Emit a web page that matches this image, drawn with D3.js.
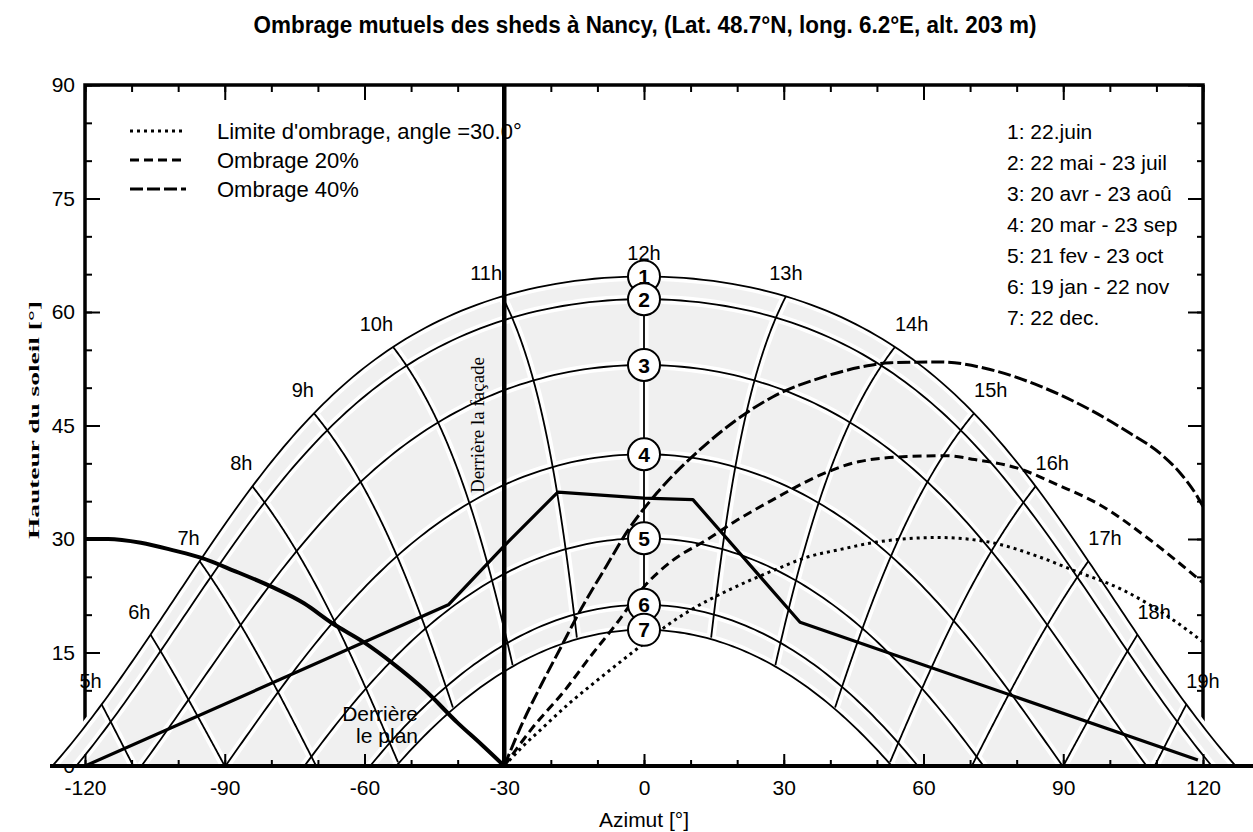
<!DOCTYPE html>
<html>
<head>
<meta charset="utf-8">
<script src="https://cdn.jsdelivr.net/npm/d3@7"></script>
<style>
  body { margin: 0; background: #fff; }
  text { font-family: "Liberation Sans", Arial, sans-serif; fill: #000; }
  .serif { font-family: "Liberation Serif", "Times New Roman", serif; }
</style>
</head>
<body>
<div id="chart"></div>
<script>
// site and sun path dates (noon altitude read at azimuth 0 for each curve)
var latitude = 48.7;
var noonAltitude = [64.7, 61.7, 53.0, 41.2, 30.1, 21.3, 18.0];
var dateNames = ["1: 22.juin", "2: 22 mai - 23 juil", "3: 20 avr - 23 aoû", "4: 20 mar - 23 sep",
                 "5: 21 fev - 23 oct", "6: 19 jan - 22 nov", "7: 22 dec."];
var hours = [5, 6, 7, 8, 9, 10, 11, 12, 13, 14, 15, 16, 17, 18, 19];

var xTicks = [-120, -90, -60, -30, 0, 30, 60, 90, 120];
var yTicks = [0, 15, 30, 45, 60, 75, 90];

// shading lines [azimut, hauteur]
var facadeAzimut = -30;
var planLimit = [[-120, 30], [-115, 30], [-108, 29.5], [-101, 28.5], [-95, 27.5], [-88, 25.8], [-80, 23.7],
                 [-73, 21.5], [-67, 18.9], [-60, 16.3], [-54, 13.6], [-47, 10], [-40, 5.7], [-35, 2.9], [-30, 0]];
var shedProfile = [[-120, 0], [-42, 21.3], [-30, 29.1], [-18.5, 36.2], [0, 35.4], [10.5, 35.2], [33.5, 19], [118.9, 0.8]];
var limitLine = [[-30, 0], [-26, 2.6], [-22, 4.9], [-16, 8.3], [-11.5, 10.6], [-5, 13.8], [0, 16.2], [5, 18.6],
                 [10, 20.6], [17, 22.9], [23, 24.6], [28, 25.9], [35, 27.6], [42, 28.6], [50, 29.6], [63, 30.2],
                 [74, 29.6], [85, 27.6], [92, 25.9], [103, 23.2], [113.6, 19.3], [120, 16.4]];
var shade20 = [[-30, 0], [-24, 5], [-17, 10], [-11.6, 14.4], [-5.8, 18.9], [0, 23.7], [6, 27.1], [13.5, 29.9],
               [20, 32.5], [27.7, 35.2], [38, 38.5], [46, 40.2], [56.5, 40.9], [65, 41], [71, 40.5], [80, 39.4],
               [89, 37.1], [97.9, 34.5], [108.6, 29.9], [120, 24.2]];
var shade40 = [[-30, 0], [-26, 5.8], [-22, 10.8], [-18, 15.5], [-14, 20.2], [-8, 26.5], [-3.6, 31], [2.8, 36.1],
               [12, 41.8], [19.1, 45.4], [27.7, 48.8], [38.4, 51.4], [46.4, 52.7], [53, 53.3], [63.5, 53.4],
               [74.3, 52.4], [85, 50.2], [95.7, 47.1], [104, 44.1], [111, 41.2], [115, 38.8], [118.7, 35.7], [120, 34.3]];

var svg = d3.select("#chart").append("svg")
  .attr("width", 1253)
  .attr("height", 832);

var x = d3.scaleLinear().domain([-120, 120]).range([85, 1203]);
var y = d3.scaleLinear().domain([0, 90]).range([766, 85]);
var plain = function(d) { return String(d); };

// title
svg.append("text")
  .attr("x", 645).attr("y", 33)
  .attr("text-anchor", "middle")
  .style("font-size", "23px").style("font-weight", "bold")
  .attr("textLength", 783).attr("lengthAdjust", "spacingAndGlyphs")
  .text("Ombrage mutuels des sheds  à  Nancy, (Lat. 48.7°N, long. 6.2°E, alt. 203 m)");

// frame: top, left, right
svg.append("path")
  .attr("d", "M" + x(-120) + "," + y(0) + "V" + y(90) + "H" + x(120) + "V" + y(0))
  .attr("fill", "none").attr("stroke", "#000").attr("stroke-width", 3.5);

var minorX = d3.range(-120, 121, 10), minorY = d3.range(0, 91, 5);
svg.append("g").attr("transform", "translate(0," + y(90) + ")")
  .call(d3.axisTop(x).tickValues(minorX).tickSize(-7).tickFormat(""));
svg.append("g").attr("transform", "translate(0," + y(90) + ")")
  .call(d3.axisTop(x).tickValues(xTicks).tickSize(-15).tickFormat(""));
svg.append("g").attr("transform", "translate(" + x(-120) + ",0)")
  .call(d3.axisLeft(y).tickValues(minorY).tickSize(-7).tickFormat(""));
svg.append("g").attr("transform", "translate(" + x(-120) + ",0)")
  .call(d3.axisLeft(y).tickValues(yTicks).tickSize(-15).tickPadding(10).tickFormat(plain))
  .selectAll("text").style("font-size", "21px").attr("font-family", null);
svg.append("g").attr("transform", "translate(" + x(120) + ",0)")
  .call(d3.axisRight(y).tickValues(minorY).tickSize(-6).tickFormat(""));
svg.append("g").attr("transform", "translate(" + x(120) + ",0)")
  .call(d3.axisRight(y).tickValues(yTicks).tickSize(-15).tickFormat(""));
svg.selectAll(".domain").remove();
svg.selectAll(".tick line").attr("stroke-width", 2);

// y axis title
svg.append("text").attr("class", "serif")
  .attr("transform", "translate(39,420) rotate(-90)")
  .attr("text-anchor", "middle")
  .style("font-size", "15px").style("font-weight", "bold")
  .attr("textLength", 238).attr("lengthAdjust", "spacingAndGlyphs")
  .text("Hauteur du soleil [°]");

// legends
var legendStyles = [
  {name: "Limite d'ombrage, angle =30.0°", dash: "3,4"},
  {name: "Ombrage 20%", dash: "9,5"},
  {name: "Ombrage 40%", dash: "13,4"}
];
legendStyles.forEach(function(d, i) {
  var ly = 131 + i * 29;
  svg.append("line").attr("x1", 130).attr("x2", 186).attr("y1", ly).attr("y2", ly)
    .attr("stroke", "#000").attr("stroke-width", 3).attr("stroke-dasharray", d.dash);
  svg.append("text").attr("x", 217).attr("y", ly + 8).style("font-size", "22px").text(d.name);
});
dateNames.forEach(function(d, i) {
  svg.append("text").attr("x", 1007).attr("y", 139 + i * 31).style("font-size", "21px").text(d);
});

// sun geometry
var rad = Math.PI / 180;
function sunPos(decl, H) {
  var phi = latitude * rad, dl = decl * rad, h = H * rad;
  var alt = Math.asin(Math.sin(phi) * Math.sin(dl) + Math.cos(phi) * Math.cos(dl) * Math.cos(h));
  var az = Math.atan2(Math.sin(h), Math.sin(phi) * Math.cos(h) - Math.cos(phi) * Math.tan(dl));
  return [az / rad, alt / rad];
}
var declinations = noonAltitude.map(function(a) { return a - (90 - latitude); });
var hourAngles = d3.range(-180, 180.5, 1);
var dateCurves = declinations.map(function(dl) {
  return hourAngles.map(function(H) { return sunPos(dl, H); });
});
var declSteps = d3.range(declinations[0], declinations[declinations.length - 1] - 0.01, -0.25);
var hourLines = hours.map(function(hr) {
  return declSteps.map(function(dl) { return sunPos(dl, (hr - 12) * 15); });
});

var line = d3.line().x(function(d) { return x(d[0]); }).y(function(d) { return y(d[1]); });

svg.append("clipPath").attr("id", "horizon")
  .append("rect").attr("x", 0).attr("y", 0).attr("width", 1253).attr("height", y(0));

var diagram = svg.append("g").attr("clip-path", "url(#horizon)");
var band = dateCurves[0].concat(dateCurves[dateCurves.length - 1].slice().reverse());
diagram.append("path").attr("d", line(band) + "Z").attr("fill", "#f0f0f0");

var allLines = dateCurves.concat(hourLines);
diagram.selectAll(".halo").data(allLines).enter().append("path")
  .attr("d", line).attr("fill", "none").attr("stroke", "#fff")
  .attr("stroke-width", 9).attr("stroke-linecap", "round").attr("stroke-linejoin", "round");
diagram.selectAll(".sunline").data(allLines).enter().append("path")
  .attr("d", line).attr("fill", "none").attr("stroke", "#000").attr("stroke-width", 1.8);

// shading limits
var smooth = d3.line().x(function(d) { return x(d[0]); }).y(function(d) { return y(d[1]); })
  .curve(d3.curveMonotoneX);
svg.append("path").attr("d", smooth(planLimit)).attr("fill", "none")
  .attr("stroke", "#000").attr("stroke-width", 4);
svg.append("path").attr("d", line(shedProfile)).attr("fill", "none")
  .attr("stroke", "#000").attr("stroke-width", 3.2).attr("stroke-linejoin", "round");
svg.append("line")
  .attr("x1", x(facadeAzimut)).attr("x2", x(facadeAzimut)).attr("y1", y(0)).attr("y2", y(90))
  .attr("stroke", "#000").attr("stroke-width", 4.5);
[[limitLine, "3,4"], [shade20, "9,5"], [shade40, "13,4"]].forEach(function(s) {
  svg.append("path").attr("d", smooth(s[0])).attr("fill", "none")
    .attr("stroke", "#000").attr("stroke-width", 3).attr("stroke-dasharray", s[1]);
});

// date markers
var marks = svg.selectAll(".mark").data(noonAltitude).enter().append("g")
  .attr("transform", function(d) { return "translate(" + x(0) + "," + y(d) + ")"; });
marks.append("circle").attr("r", 16).attr("fill", "#fff").attr("stroke", "#000").attr("stroke-width", 2);
marks.append("text").attr("text-anchor", "middle").attr("dy", "0.36em")
  .style("font-size", "21px").style("font-weight", "bold").text(function(d, i) { return i + 1; });

// hour labels
hours.forEach(function(hr) {
  var H = (hr - 12) * 15, p = sunPos(declinations[0], H);
  var anchor = (H === 0 || H === 15) ? "middle" : (H < 0 ? "end" : "start");
  svg.append("text").attr("x", x(p[0])).attr("y", y(p[1]) - 16)
    .attr("text-anchor", anchor).style("font-size", "20px").text(hr + "h");
});

svg.append("text").attr("class", "serif")
  .attr("transform", "translate(484,425) rotate(-90)")
  .attr("text-anchor", "middle").style("font-size", "19px")
  .text("Derrière  la façade");
svg.append("text").attr("x", 418).attr("y", 721).attr("text-anchor", "end")
  .style("font-size", "21px").text("Derrière");
svg.append("text").attr("x", 418).attr("y", 743).attr("text-anchor", "end")
  .style("font-size", "21px").text("le plan");

// x axis
svg.append("line").attr("x1", 50).attr("x2", 1253).attr("y1", y(0)).attr("y2", y(0))
  .attr("stroke", "#000").attr("stroke-width", 4);
svg.append("g").attr("transform", "translate(0," + y(0) + ")")
  .call(d3.axisBottom(x).tickValues(minorX).tickSize(-6).tickFormat(""));
var xAxis = svg.append("g").attr("transform", "translate(0," + y(0) + ")")
  .call(d3.axisBottom(x).tickValues(xTicks).tickSize(-12).tickPadding(14).tickFormat(plain));
xAxis.selectAll("text").style("font-size", "21px").attr("font-family", null);
svg.selectAll(".domain").remove();
svg.selectAll(".tick line").attr("stroke-width", 2);

svg.append("text").attr("x", 644).attr("y", 827).attr("text-anchor", "middle")
  .style("font-size", "21px").text("Azimut [°]");
</script>
</body>
</html>
